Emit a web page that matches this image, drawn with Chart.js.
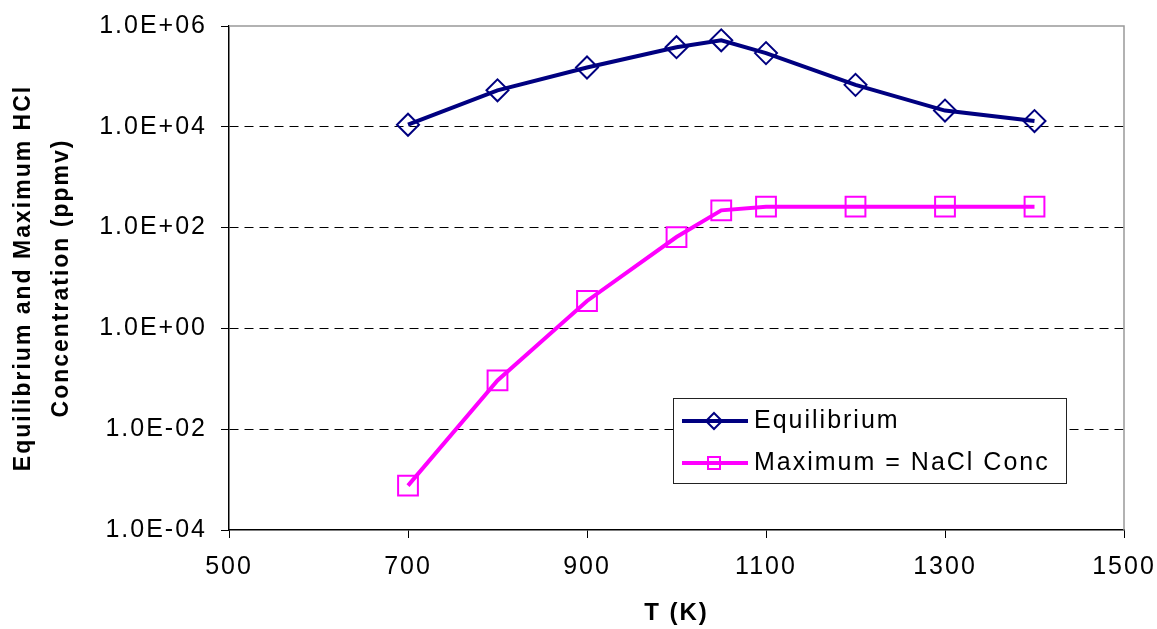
<!DOCTYPE html>
<html>
<head>
<meta charset="utf-8">
<title>Equilibrium and Maximum HCl Concentration</title>
<script src="https://cdn.jsdelivr.net/npm/chart.js@4.4.1/dist/chart.umd.min.js"></script>
<style>
  html, body { margin: 0; padding: 0; background: #fff; }
  canvas { display: block; }
</style>
</head>
<body>
<canvas id="chartHcl" width="1157" height="629"></canvas>
<script>
// Temperature (K) and HCl concentration (ppmv)
const temps = [700, 800, 900, 1000, 1050, 1100, 1200, 1300, 1400];
const equilibrium = [1.1e4, 5.3e4, 1.5e5, 3.8e5, 5.2e5, 2.9e5, 6.8e4, 2.1e4, 1.3e4];
const maximumNaCl = [7.6e-4, 0.093, 3.5, 65, 220, 260, 260, 260, 260];

const seriesNames = ['Equilibrium', 'Maximum = NaCl Conc'];
const xTicks = [500, 700, 900, 1100, 1300, 1500];
const xTickLabels = ['500', '700', '900', '1100', '1300', '1500'];
const yTicks = [1e-4, 1e-2, 1, 1e2, 1e4, 1e6];
const yTickLabels = ['1.0E-04', '1.0E-02', '1.0E+00', '1.0E+02', '1.0E+04', '1.0E+06'];

const FONT = '"Liberation Sans", Arial, sans-serif';
Chart.defaults.font.family = FONT;
Chart.defaults.color = '#000';

const toPoints = vals => temps.map((t, i) => ({ x: t, y: vals[i] }));

// slightly wider text, like the old spreadsheet export
const textSpacing = {
    id: 'textSpacing',
    beforeDraw(chart) {
        chart.ctx.letterSpacing = '2px';
    }
};

// grey top and right edges of the plot frame
const plotFrame = {
    id: 'plotFrame',
    beforeDatasetsDraw(chart) {
        const { ctx, chartArea: a } = chart;
        ctx.save();
        ctx.strokeStyle = '#999';
        ctx.lineWidth = 1.5;
        ctx.beginPath();
        ctx.moveTo(a.left, a.top);
        ctx.lineTo(a.right, a.top);
        ctx.lineTo(a.right, a.bottom);
        ctx.stroke();
        ctx.restore();
    }
};

// boxed legend inside the plot
const legendBox = {
    id: 'legendBox',
    afterDraw(chart) {
        const ctx = chart.ctx;
        const x0 = 673, y0 = 398, w = 393, h = 85;
        ctx.save();
        ctx.fillStyle = '#fff';
        ctx.fillRect(x0, y0, w, h);
        ctx.strokeStyle = '#222';
        ctx.lineWidth = 1;
        ctx.strokeRect(x0 + 0.5, y0 + 0.5, w, h);
        chart.data.datasets.forEach((ds, i) => {
            const cy = y0 + 23 + i * 42;
            const mx = x0 + 41;
            ctx.setLineDash([]);
            ctx.strokeStyle = ds.borderColor;
            ctx.lineWidth = 4;
            ctx.beginPath();
            ctx.moveTo(x0 + 9, cy);
            ctx.lineTo(x0 + 75, cy);
            ctx.stroke();

            ctx.lineWidth = 2;
            ctx.beginPath();
            if (ds.pointStyle === 'rectRot') {
                const r = 8;
                ctx.moveTo(mx, cy - r);
                ctx.lineTo(mx + r, cy);
                ctx.lineTo(mx, cy + r);
                ctx.lineTo(mx - r, cy);
                ctx.closePath();
            } else {
                ctx.rect(mx - 6, cy - 6, 12, 12);
            }
            ctx.stroke();

            ctx.fillStyle = '#000';
            ctx.font = '25px ' + FONT;
            ctx.textAlign = 'left';
            ctx.textBaseline = 'middle';
            ctx.fillText(ds.label, x0 + 81, cy);
        });
        ctx.restore();
    }
};

const ctxHcl = document.getElementById('chartHcl').getContext('2d');
new Chart(ctxHcl, {
    type: 'line',
    data: {
        datasets: [
            {
                label: seriesNames[0],
                data: toPoints(equilibrium),
                borderColor: '#000080',
                borderWidth: 4,
                pointStyle: 'rectRot',
                pointRadius: 11,
                pointBorderWidth: 2,
                pointBorderColor: '#000080',
                pointBackgroundColor: 'rgba(0,0,0,0)',
                tension: 0,
                clip: false
            },
            {
                label: seriesNames[1],
                data: toPoints(maximumNaCl),
                borderColor: '#ff00ff',
                borderWidth: 4,
                pointStyle: 'rect',
                pointRadius: 14,
                pointBorderWidth: 2,
                pointBorderColor: '#ff00ff',
                pointBackgroundColor: 'rgba(0,0,0,0)',
                tension: 0,
                clip: false
            }
        ]
    },
    options: {
        responsive: false,
        animation: false,
        layout: { padding: { left: 0, top: 26, right: 33, bottom: 0 } },
        plugins: {
            legend: { display: false },
            tooltip: { enabled: false }
        },
        scales: {
            x: {
                type: 'linear',
                min: 500,
                max: 1500,
                afterBuildTicks: s => { s.ticks = xTicks.map(v => ({ value: v })); },
                afterFit: s => {
                    s.height = 99;
                    s.paddingLeft = 0;
                    s.paddingRight = 0;
                },
                grid: { drawOnChartArea: false, tickLength: 8, tickColor: '#000', tickWidth: 1 },
                border: { color: '#000', width: 1.5 },
                ticks: {
                    font: { size: 25 },
                    padding: 14,
                    maxRotation: 0,
                    autoSkip: false,
                    callback: (v, i) => xTickLabels[i]
                },
                title: {
                    display: true,
                    text: 'T (K)',
                    font: { size: 24, weight: 'bold' },
                    padding: { top: 0, bottom: 1 }
                }
            },
            y: {
                type: 'logarithmic',
                min: 1e-4,
                max: 1e6,
                afterBuildTicks: s => { s.ticks = yTicks.map(v => ({ value: v })); },
                afterFit: s => {
                    s.width = 229;
                    s.paddingTop = 0;
                    s.paddingBottom = 0;
                },
                grid: {
                    color: c => (c.tick && (c.tick.value === 1e-4 || c.tick.value === 1e6)) ? 'rgba(0,0,0,0)' : '#000',
                    lineWidth: 1,
                    tickLength: 8,
                    tickColor: '#000',
                    tickWidth: 1
                },
                border: { color: '#000', width: 1.5, dash: [9, 6] },
                ticks: {
                    font: { size: 25 },
                    padding: 14,
                    autoSkip: false,
                    callback: (v, i) => yTickLabels[i]
                },
                title: {
                    display: true,
                    text: ['Equilibrium and Maximum HCl', 'Concentration (ppmv)'],
                    font: { size: 23, weight: 'bold', lineHeight: 1.65 },
                    padding: { top: 5, bottom: 0 }
                }
            }
        }
    },
    plugins: [textSpacing, plotFrame, legendBox]
});
</script>
</body>
</html>
